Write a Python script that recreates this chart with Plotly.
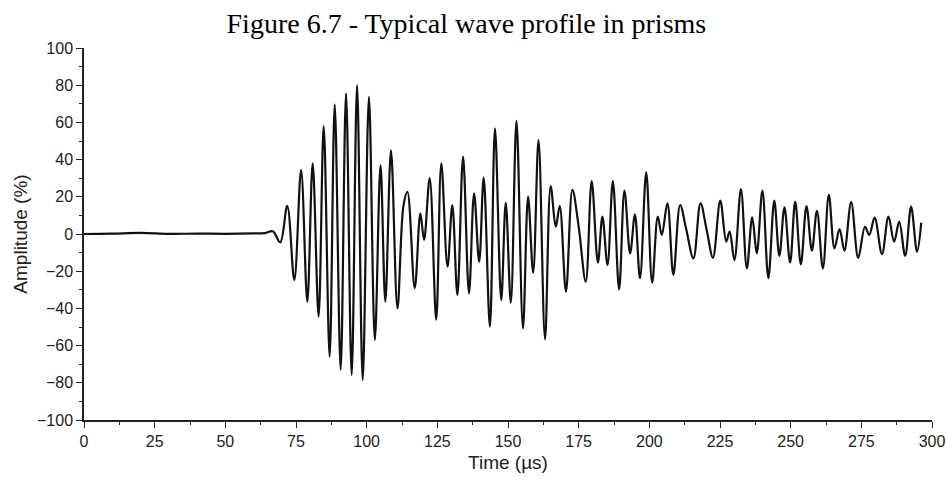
import plotly.graph_objects as go

# Extrema of the waveform (time in µs, amplitude in %)
time_us = [0, 10, 20, 30, 40, 50, 60, 64, 66.8, 69.4, 71.9, 74.4, 76.8, 79.0, 80.9, 83.0,
           84.8, 86.9, 88.7, 90.8, 92.7, 94.7, 96.6, 98.6, 100.8, 102.9, 104.9, 106.6,
           108.6, 110.9, 113.0, 114.4, 117.0, 119.0, 120.3, 122.3, 124.6, 126.4, 128.6,
           130.3, 132.1, 134.1, 136.2, 138.0, 139.8, 141.4, 143.6, 145.4, 147.6, 149.2,
           151.0, 153.0, 155.3, 157.1, 158.9, 160.8, 163.1, 165.1, 166.9, 168.3, 170.5,
           172.8, 175.0, 177.5, 179.6, 181.8, 183.4, 185.2, 187.1, 189.3, 191.2, 193.2,
           194.9, 196.7, 198.9, 201.0, 203.0, 204.4, 206.4, 208.5, 210.9, 213.0, 215.6,
           218.1, 220.3, 222.5, 225.1, 227.2, 228.4, 230.1, 232.4, 234.5, 236.4, 238.0,
           240.0, 242.1, 244.2, 246.0, 247.8, 249.8, 251.6, 253.6, 255.6, 257.5, 259.3,
           261.4, 263.5, 265.5, 267.3, 269.0, 271.4, 273.9, 276.3, 277.8, 279.7, 282.3,
           284.6, 286.6, 288.4, 290.5, 292.6, 294.7, 296.2]
amplitude = [0, 0.2, 0.6, 0.1, 0.2, 0.1, 0.3, 0.5, 1.5, -4.5, 15.2, -24.7, 34.4, -36.4, 38, -44.4,
             58, -66, 69.7, -73, 75.6, -75.8, 80, -78.5, 73.8, -57, 37, -36.4,
             45, -40, 15, 22.7, -29.2, 11.1, -3.2, 30, -46, 38, -17.6,
             15.6, -32.8, 41.6, -31.9, 21.9, -14.9, 30.3, -49.8, 56.8, -35.5, 16.8,
             -36.9, 60.9, -50.7, 20.1, -20.8, 50.5, -56.6, 25.8, 3.9, 15, -31,
             23.7, 4, -25.6, 28.5, -15.4, 9.3, -16.7, 28.5, -29.7, 23.3, -10.4,
             10.6, -23.8, 33.2, -26.2, 9.3, -0.5, 16.5, -22, 15.6, 3, -13.1,
             16.5, 2, -12.7, 17.9, -4.1, 1.3, -14, 24.2, -18.5, 9, -10.4,
             23.3, -23.8, 17.9, -11.8, 14.3, -15.4, 17.4, -16.3, 15, -9, 12.5,
             -18.5, 21, -7.7, 2.7, -9, 17.1, -12.8, 3.9, -0.5, 8.8, -10.8,
             9.3, -4.1, 6.6, -11.8, 14.7, -9.5, 6.1]

x_ticks = [0, 25, 50, 75, 100, 125, 150, 175, 200, 225, 250, 275, 300]
y_ticks = [-100, -80, -60, -40, -20, 0, 20, 40, 60, 80, 100]

fig = go.Figure()
fig.add_trace(go.Scatter(
    x=time_us, y=amplitude, mode="lines",
    line=dict(color="#111", width=2.2, shape="spline", smoothing=1.0),
    showlegend=False, hoverinfo="skip"))

sans = "Liberation Sans, Arial, sans-serif"
tick_font = dict(family=sans, size=16, color="#222")
title_font = dict(family=sans, size=19, color="#222")

fig.update_layout(
    width=946, height=482,
    paper_bgcolor="white", plot_bgcolor="white",
    margin=dict(l=84, r=14, t=48, b=62),
    title=dict(text="Figure 6.7 - Typical wave profile in prisms",
               font=dict(family="Liberation Serif, Times New Roman, serif", size=28, color="black"),
               x=0.493, xanchor="center", y=0.952, yanchor="middle"),
    xaxis=dict(range=[0, 300], tickvals=x_ticks, showgrid=False, zeroline=False,
               automargin=False,
               showline=True, linecolor="#222", linewidth=1.5,
               ticks="outside", ticklen=6, tickwidth=1.3, tickcolor="#222",
               minor=dict(ticks="outside", ticklen=3, tickwidth=1.2, tickcolor="#222", dtick=12.5, showgrid=False),
               tickfont=tick_font,
               title=dict(text="Time (µs)", font=title_font, standoff=7)),
    yaxis=dict(range=[-100, 100], tickvals=y_ticks, showgrid=False, zeroline=False,
               automargin=False,
               showline=True, linecolor="#222", linewidth=1.5,
               ticks="outside", ticklen=6, tickwidth=1.3, tickcolor="#222",
               minor=dict(ticks="outside", ticklen=3, tickwidth=1.2, tickcolor="#222", dtick=10, showgrid=False),
               tickfont=tick_font,
               title=dict(text="Amplitude (%)", font=title_font, standoff=4)),
)

fig.write_html("out.html")
